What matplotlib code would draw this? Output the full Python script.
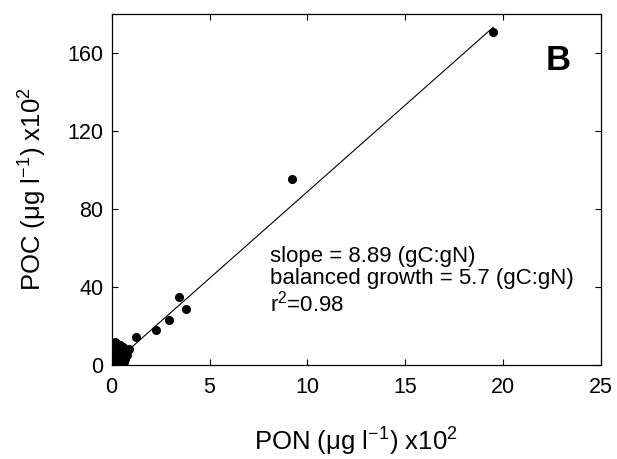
import matplotlib
matplotlib.use("Agg")
import matplotlib.pyplot as plt
import numpy as np

plt.rcParams['font.family'] = ['Liberation Sans', 'DejaVu Sans']

# Data (PON x10^2, POC x10^2)
pon = [19.5, 9.2, 3.8, 3.45, 2.95, 2.25, 1.25,
       0.05, 0.1, 0.15, 0.2, 0.3, 0.25, 0.4, 0.5, 0.6, 0.35, 0.5, 0.7, 0.8,
       0.1, 0.2, 0.4, 0.6, 0.9, 0.05, 0.3, 0.5, 0.7, 0.8, 0.15, 0.45, 0.65]
poc = [171, 95.5, 28.5, 35, 23, 18, 14.5,
       1, 2, 3, 5, 4, 7, 6, 5, 4, 9, 8, 6, 7,
       10, 11, 10, 9, 8, 0.5, 1, 2, 3, 5, 12, 3.5, 1.5]
slope = 8.89
fit_x = [0, 19.5]

fig = plt.figure(figsize=(6.17, 4.59), dpi=100)
ax = fig.add_axes([0.181, 0.205, 0.793, 0.764])

ax.plot(fit_x, [slope * v for v in fit_x], color='black', lw=0.8)
ax.plot(pon, poc, 'o', color='black', ms=5.5, mec='black')

ax.set_xlim(0, 25)
ax.set_ylim(0, 180)
ax.set_xticks([0, 5, 10, 15, 20, 25])
ax.set_yticks([0, 40, 80, 120, 160])
ax.tick_params(direction='in', top=True, right=True, length=4.5, width=0.8,
               labelsize=15.5)
ax.tick_params(axis='x', pad=9)
ax.tick_params(axis='y', pad=6)
for s in ax.spines.values():
    s.set_linewidth(0.9)

ax.set_xlabel(r'PON ($\mathregular{\mu}$g l$^{\mathregular{-1}}$) x10$^{\mathregular{2}}$',
              fontsize=18.5)
ax.set_ylabel(r'POC ($\mathregular{\mu}$g l$^{\mathregular{-1}}$) x10$^{\mathregular{2}}$',
              fontsize=18.5)
ax.xaxis.label.set_va('center')
ax.yaxis.label.set_va('center')
ax.xaxis.set_label_coords(0.5, -0.216)
ax.yaxis.set_label_coords(-0.163, 0.5)

ax.text(22.8, 156, 'B', fontsize=25, fontweight='bold', ha='center', va='center')
ax.text(0.324, 0.293, 'slope = 8.89 (gC:gN)', transform=ax.transAxes,
        fontsize=16, va='baseline')
ax.text(0.324, 0.231, 'balanced growth = 5.7 (gC:gN)', transform=ax.transAxes,
        fontsize=16, va='baseline')
ax.text(0.324, 0.174, r'r$^{\mathregular{2}}$=0.98', transform=ax.transAxes,
        fontsize=16, va='center')

fig.savefig('out.png', dpi=100)
